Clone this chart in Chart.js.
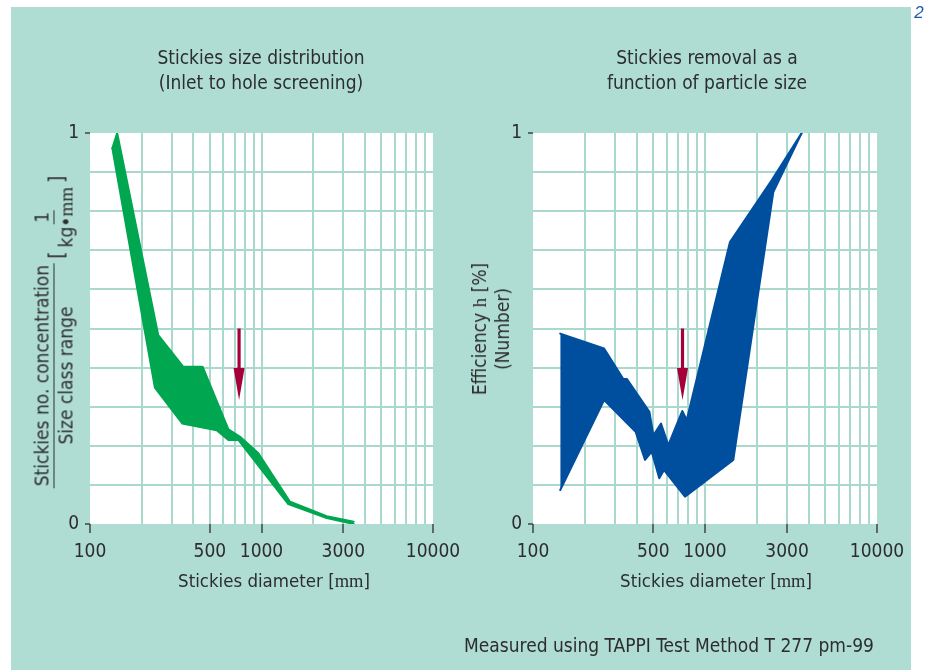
<!DOCTYPE html>
<html>
<head>
<meta charset="utf-8">
<title>Stickies size distribution and removal</title>
<script src="https://cdn.jsdelivr.net/npm/chart.js@4.4.1/dist/chart.umd.min.js"></script>
<style>
  html, body { margin: 0; padding: 0; background: #fff; }
  body {
    width: 930px; height: 670px; position: relative; overflow: hidden;
    font-family: "Liberation Sans Narrow", "DejaVu Sans Condensed", "Liberation Sans", sans-serif;
    color: #2d2d2d;
  }
  #panel { position: absolute; left: 11px; top: 7px; width: 900px; height: 663px; background: #afddd3; }
  canvas { position: absolute; top: 0; }
  #leftChart { left: 0; }
  #rightChart { left: 465px; }
  .txt {
    position: absolute; white-space: nowrap; text-align: center;
    transform: translate(-50%, -50%); font-size: 19px; line-height: 25px;
  }
  .ylab {
    position: absolute; white-space: nowrap; display: flex; align-items: center;
    transform: translate(-50%, -50%) rotate(-90deg); font-size: 19px; line-height: 19px;
  }
  .frac { display: inline-flex; flex-direction: column; align-items: center; }
  .frac .num { border-bottom: 1.5px solid #2d2d2d; padding: 0 2px 2px; }
  .frac .den { padding-top: 2px; }
  .br { padding: 6px 4px 0; font-size: 21px; }
  .mu { font-family: "Liberation Serif", "DejaVu Serif", serif; }
  #pageNo { position: absolute; left: 919px; top: 13px; transform: translate(-50%, -50%);
    font: italic 17px "Liberation Sans", sans-serif; color: #1c5cae; }
</style>
</head>
<body>
<div id="panel"></div>
<canvas id="leftChart" width="520" height="670"></canvas>
<canvas id="rightChart" width="465" height="670"></canvas>

<div class="txt" style="left:261px; top:70px;">Stickies size distribution<br>(Inlet to hole screening)</div>
<div class="txt" style="left:707px; top:70px;">Stickies removal as a<br>function of particle size</div>
<div class="txt" style="left:274px; top:581px; font-size:18.5px;">Stickies diameter [<span class="mu">mm</span>]</div>
<div class="txt" style="left:716px; top:581px; font-size:18.5px;">Stickies diameter [<span class="mu">mm</span>]</div>
<div class="ylab" style="left:54px; top:330px;">
  <span class="frac"><span class="num">Stickies no. concentration</span><span class="den">Size class range</span></span>
  <span class="br">[</span>
  <span class="frac"><span class="num">1</span><span class="den">kg•<span class="mu">mm</span></span></span>
  <span class="br">]</span>
</div>
<div class="txt" style="left:491px; top:329px; transform: translate(-50%, -50%) rotate(-90deg); line-height:23px;">Efficiency <span class="mu">h</span> [%]<br>(Number)</div>
<div class="txt" style="left:669px; top:645px;">Measured using TAPPI Test Method T 277 pm-99</div>
<div id="pageNo">2</div>

<script>
// stickies diameter (x) and normalised values (y)
const greenUpperX = [135, 144, 250, 350, 454, 641, 750, 959, 1466, 2399, 3450];
const greenUpperY = [0.961, 1.0, 0.483, 0.402, 0.402, 0.242, 0.223, 0.181, 0.057, 0.020, 0.006];
const greenLowerX = [135, 239, 345, 548, 641, 733, 1433, 2399, 3450];
const greenLowerY = [0.961, 0.349, 0.257, 0.240, 0.215, 0.215, 0.051, 0.015, 0.0];

const blueUpperX = [144, 259, 335, 351, 475, 501, 555, 612, 738, 783, 1397, 2441, 3648];
const blueUpperY = [0.487, 0.449, 0.371, 0.371, 0.287, 0.227, 0.257, 0.202, 0.289, 0.266, 0.721, 0.879, 1.0];
const blueLowerX = [144, 259, 395, 448, 490, 542, 578, 765, 1461, 2495, 3648];
const blueLowerY = [0.087, 0.317, 0.236, 0.164, 0.185, 0.117, 0.138, 0.070, 0.164, 0.849, 1.0];

// hole size marker (red arrow)
const arrowAt = 740;
const arrowFrom = 0.5;
const arrowTo = 0.317;

// axis ticks
const xTicks = [100, 200, 300, 400, 500, 600, 700, 800, 900, 1000, 2000, 3000, 4000, 5000, 6000, 7000, 8000, 9000, 10000];
const xLabels = [100, 500, 1000, 3000, 10000];
const yTicks = [0, 0.1, 0.2, 0.3, 0.4, 0.5, 0.6, 0.7, 0.8, 0.9, 1];
const yLabels = [0, 1];

const FONT = '"Liberation Sans Narrow", "DejaVu Sans Condensed", "Liberation Sans", sans-serif';
const INK = '#2d2d2d';
const GRID = '#a8d9cc';
const NONE = 'rgba(0,0,0,0)';

const toPoints = (xs, ys) => xs.map((x, i) => ({ x: x, y: ys[i] }));

// white plot area
const plotBg = {
  id: 'plotBg',
  beforeDraw(chart) {
    const { ctx, chartArea: a } = chart;
    ctx.save();
    ctx.fillStyle = '#ffffff';
    ctx.fillRect(a.left, a.top, a.width, a.height);
    ctx.restore();
  }
};

// red arrow at the hole size
const holeArrow = {
  id: 'holeArrow',
  afterDatasetsDraw(chart) {
    const { ctx, scales: { x, y } } = chart;
    const px = x.getPixelForValue(arrowAt);
    const top = y.getPixelForValue(arrowFrom);
    const tip = y.getPixelForValue(arrowTo);
    const headLen = 32, half = 5.5;
    ctx.save();
    ctx.fillStyle = '#a6003a';
    ctx.fillRect(px - 1.6, top, 3.2, tip - headLen - top + 1);
    ctx.beginPath();
    ctx.moveTo(px - half, tip - headLen);
    ctx.lineTo(px + half, tip - headLen);
    ctx.lineTo(px, tip);
    ctx.closePath();
    ctx.fill();
    ctx.restore();
  }
};

function makeChart(id, upper, lower, color, padLeft, padRight) {
  const ctx = document.getElementById(id).getContext('2d');
  return new Chart(ctx, {
    type: 'line',
    data: {
      datasets: [
        { data: upper, borderColor: color, backgroundColor: color, borderWidth: 2, fill: false },
        { data: lower, borderColor: color, backgroundColor: color, borderWidth: 2, fill: '-1' }
      ]
    },
    options: {
      responsive: false,
      animation: false,
      layout: { padding: { left: padLeft, right: padRight, top: 133, bottom: 86 } },
      elements: { point: { radius: 0 }, line: { tension: 0, borderJoinStyle: 'round', borderCapStyle: 'round' } },
      plugins: { legend: { display: false }, tooltip: { enabled: false } },
      scales: {
        x: {
          type: 'logarithmic',
          min: 100,
          max: 10000,
          afterBuildTicks: s => { s.ticks = xTicks.map(v => ({ value: v })); },
          afterFit: s => { s.height = 60; },
          border: { display: false },
          grid: {
            lineWidth: 2,
            tickLength: 9,
            tickWidth: 1.3,
            color: c => (c.tick && (c.tick.value === 100 || c.tick.value === 10000)) ? NONE : GRID,
            tickColor: c => (c.tick && xLabels.includes(c.tick.value)) ? INK : NONE
          },
          ticks: {
            autoSkip: false,
            maxRotation: 0,
            padding: 8,
            color: INK,
            font: { family: FONT, size: 19 },
            callback: v => xLabels.includes(v) ? String(v) : ''
          }
        },
        y: {
          min: 0,
          max: 1,
          afterBuildTicks: s => { s.ticks = yTicks.map(v => ({ value: v })); },
          afterFit: s => { s.width = 40; },
          border: { display: false },
          grid: {
            lineWidth: 2,
            tickLength: 5,
            tickWidth: 1.3,
            color: c => (c.tick && (c.tick.value === 0 || c.tick.value === 1)) ? NONE : GRID,
            tickColor: c => (c.tick && yLabels.includes(c.tick.value)) ? INK : NONE
          },
          ticks: {
            padding: 6,
            color: INK,
            font: { family: FONT, size: 19 },
            callback: v => yLabels.includes(v) ? String(v) : ''
          }
        }
      }
    },
    plugins: [plotBg, holeArrow]
  });
}

makeChart('leftChart', toPoints(greenUpperX, greenUpperY), toPoints(greenLowerX, greenLowerY), '#00a650', 50, 87);
makeChart('rightChart', toPoints(blueUpperX, blueUpperY), toPoints(blueLowerX, blueLowerY), '#004f9f', 28, 53);
</script>
</body>
</html>
